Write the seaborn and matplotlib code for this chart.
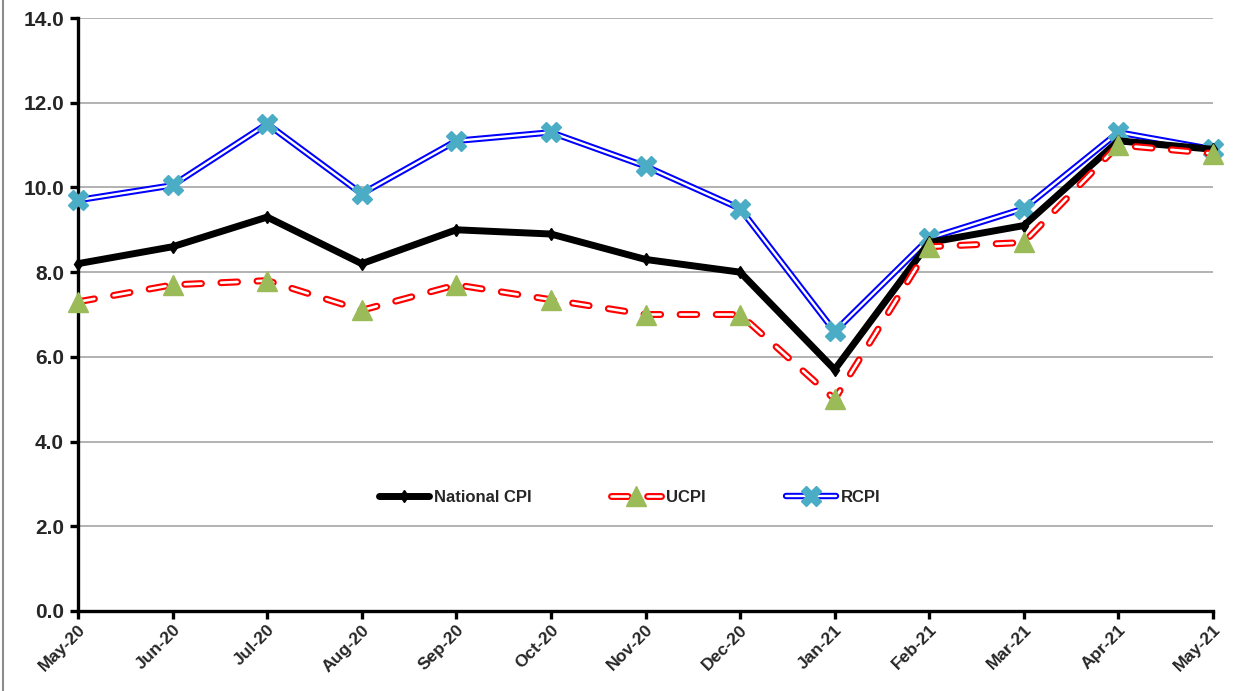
import matplotlib
matplotlib.use("Agg")
import matplotlib.pyplot as plt
import seaborn as sns
import numpy as np
from matplotlib.lines import Line2D
from matplotlib.legend_handler import HandlerTuple
from matplotlib.ticker import FormatStrFormatter

months = ["May-20", "Jun-20", "Jul-20", "Aug-20", "Sep-20", "Oct-20", "Nov-20",
          "Dec-20", "Jan-21", "Feb-21", "Mar-21", "Apr-21", "May-21"]
national_cpi = [8.2, 8.6, 9.3, 8.2, 9.0, 8.9, 8.3, 8.0, 5.7, 8.7, 9.1, 11.1, 10.9]
ucpi = [7.3, 7.7, 7.8, 7.1, 7.7, 7.35, 7.0, 7.0, 5.0, 8.6, 8.7, 11.0, 10.8]
rcpi = [9.7, 10.05, 11.5, 9.85, 11.1, 11.3, 10.5, 9.5, 6.6, 8.8, 9.5, 11.3, 10.9]
yticks = [0, 2, 4, 6, 8, 10, 12, 14]

sns.set_style("white")
plt.rcParams['font.family'] = ['Liberation Sans', 'DejaVu Sans']
plt.rcParams['font.weight'] = 'bold'

fig = plt.figure(figsize=(12.37, 6.91), dpi=100)
ax = fig.add_axes([78/1237, 80/691, 1135/1237, 593/691])
x = np.arange(len(months))

RED_DASH = (0, (2.4, 2.8))
WHITE_LW = 1.9
WHITE_DASH = (0, (12/WHITE_LW, 14/WHITE_LW))

# RCPI: blue double line
sns.lineplot(x=x, y=rcpi, ax=ax, color="#0000FF", linewidth=4.6, zorder=3)
sns.lineplot(x=x, y=rcpi, ax=ax, color="white", linewidth=1.7, zorder=3.1)
ax.plot(x, rcpi, linestyle="none", marker="X", markersize=15, color="#4BACC6",
        markeredgecolor="#4BACC6", zorder=3.2, clip_on=False)

# National CPI: thick black
sns.lineplot(x=x, y=national_cpi, ax=ax, color="black", linewidth=5, zorder=4)
ax.plot(x, national_cpi, linestyle="none", marker="d", markersize=6, color="black",
        zorder=4.1, clip_on=False)

# UCPI: red dashed double line
sns.lineplot(x=x, y=ucpi, ax=ax, color="#FF0000", linewidth=5,
             linestyle=RED_DASH, dash_capstyle="round", zorder=5)
sns.lineplot(x=x, y=ucpi, ax=ax, color="white", linewidth=WHITE_LW,
             linestyle=WHITE_DASH, dash_capstyle="round", zorder=5.1)
ax.plot(x, ucpi, linestyle="none", marker="^", markersize=14, color="#9BBB59",
        markeredgecolor="#9BBB59", zorder=5.2, clip_on=False)

ax.set_xlim(0, len(months) - 1)
ax.set_ylim(0, 14)
ax.set_yticks(yticks)
ax.yaxis.set_major_formatter(FormatStrFormatter("%.1f"))
ax.set_xticks(x)
ax.set_xticklabels(months, rotation=45, ha="right", rotation_mode="anchor",
                   fontsize=12.5, fontweight="bold")
for lab in ax.get_yticklabels():
    lab.set_fontsize(15)
    lab.set_fontweight("bold")

ax.grid(axis="y", color="#A6A6A6", linewidth=1.2)
ax.grid(axis="x", visible=False)
for s in ["top", "right"]:
    ax.spines[s].set_visible(False)
for s in ["left", "bottom"]:
    ax.spines[s].set_color("black")
    ax.spines[s].set_linewidth(2.4)
ax.tick_params(axis="both", direction="out", length=6, width=2.4, color="black",
               left=True, bottom=True)
ax.tick_params(axis="y", pad=4)
ax.tick_params(axis="x", pad=2)
ax.set_xlabel("")
ax.set_ylabel("")

# Legend
h_nat = (Line2D([], [], color="black", linewidth=5),
         Line2D([], [], linestyle="none", marker="d", markersize=6, color="black"))
h_u = (Line2D([], [], color="#FF0000", linewidth=5, linestyle=RED_DASH,
              dash_capstyle="round"),
       Line2D([], [], color="white", linewidth=WHITE_LW, linestyle=WHITE_DASH,
              dash_capstyle="round"),
       Line2D([], [], linestyle="none", marker="^", markersize=14, color="#9BBB59"))
h_r = (Line2D([], [], color="#0000FF", linewidth=4.6),
       Line2D([], [], color="white", linewidth=1.7),
       Line2D([], [], linestyle="none", marker="X", markersize=15, color="#4BACC6"))
leg = ax.legend([h_nat, h_u, h_r], ["National CPI", "UCPI", "RCPI"],
                handler_map={tuple: HandlerTuple(ndivide=1, pad=0)},
                loc="center", bbox_to_anchor=(0.486, 0.192), ncol=3, frameon=False,
                handlelength=3.0, columnspacing=4.8, handletextpad=0.3,
                prop={"size": 12, "weight": "bold"})

fig.add_artist(Line2D([0.0028, 0.0028], [0, 1], color="#8C8C8C", linewidth=1.5,
                      transform=fig.transFigure))

fig.savefig("out.png", dpi=100)
